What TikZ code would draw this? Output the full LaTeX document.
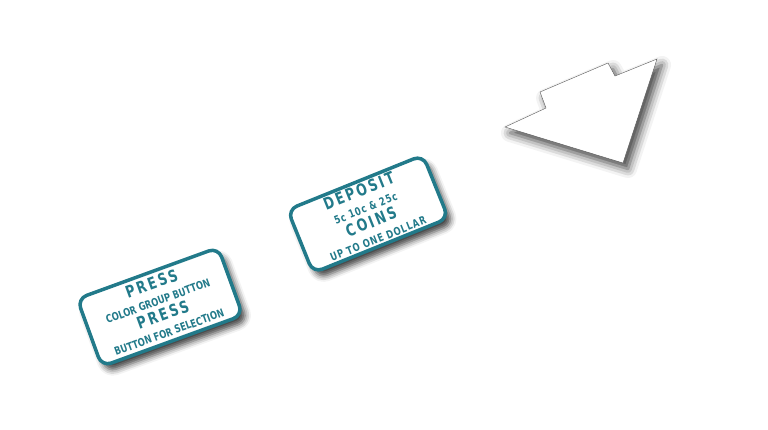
\documentclass[tikz,border=0pt]{standalone}
\usepackage{fontspec}
\newfontfamily\signfont[FakeStretch=0.76]{DejaVu Sans}
\usetikzlibrary{shadows.blur}
\definecolor{signteal}{RGB}{34,122,138}
\tikzset{
softshadow/.style={blur shadow={shadow xshift=5pt,shadow yshift=-6pt,
    shadow blur radius=#1,shadow opacity=75}},
softshadow/.default={6pt},
sign/.style={draw=signteal,line width=3.5pt,rounded corners=10pt,fill=white,
    text=signteal,font=\signfont\bfseries\fontsize{11}{16.5}\selectfont,
    align=center,inner sep=1pt,minimum width=#1,softshadow},
sign/.default={146pt},
pointer/.style={draw=black!65,thin,fill=white,softshadow=9pt},
}
\newcommand{\bigword}[1]{{\fontsize{16.5}{16.5}\selectfont\addfontfeatures{LetterSpace=14}#1}}
\newcommand{\spaced}[1]{{\addfontfeatures{LetterSpace=8}#1}}

\begin{document}
\begin{tikzpicture}[x=1pt,y=-1pt]
    \useasboundingbox (0,0) rectangle (768,429);

    \node[sign=150pt,minimum height=72pt,rotate=20] (press) at (160,307)
        {\bigword{PRESS}\\ COLOR GROUP BUTTON\\
         \bigword{PRESS}\\ BUTTON FOR SELECTION};
    \node[sign=146pt,minimum height=68pt,rotate=22] (deposit) at (368,214)
        {\bigword{DEPOSIT}\\ \spaced{5c 10c \& 25c}\\
         \bigword{COINS}\\ \spaced{UP TO ONE DOLLAR}};

    % arrow pointing up to the right
    \path[pointer] (505,127) -- (546,108) -- (540,92) -- (608,63)
        -- (615,76) -- (657,59) -- (623,163) -- cycle;
\end{tikzpicture}
\end{document}
